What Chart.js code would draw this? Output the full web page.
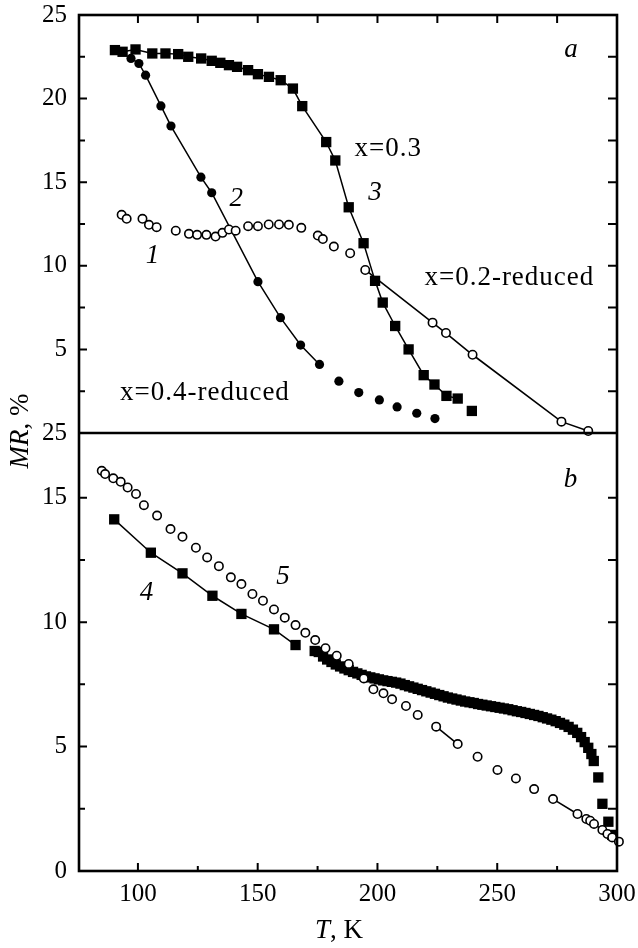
<!DOCTYPE html>
<html>
<head>
<meta charset="utf-8">
<script src="https://cdn.jsdelivr.net/npm/chart.js@4.4.0/dist/chart.umd.min.js"></script>
<style>
  html, body { margin: 0; padding: 0; background: #fff; }
  #wrap { width: 638px; height: 948px; position: relative; }
</style>
</head>
<body>
<div id="wrap"><canvas id="mr"></canvas></div>
<script>
// panel a, curve 1 : x=0.2-reduced (open circles)
var tempA1 = [93.2, 95.3, 101.9, 104.6, 107.8, 115.8, 121.3, 124.7, 128.6, 132.4, 135.3, 138.0, 140.8, 146.0, 150.1, 154.6, 158.9, 163.0, 168.2, 175.1, 177.2, 181.8, 188.6, 194.9, 223.0, 228.6, 239.7, 276.8, 288.0];
var mrA1 = [13.05, 12.81, 12.81, 12.45, 12.31, 12.10, 11.91, 11.85, 11.85, 11.75, 11.97, 12.17, 12.10, 12.37, 12.37, 12.47, 12.47, 12.45, 12.27, 11.81, 11.60, 11.15, 10.75, 9.75, 6.60, 5.98, 4.68, 0.68, 0.12];
// panel a, curve 2 : x=0.4-reduced (filled circles)
var tempA2 = [97.1, 100.4, 103.2, 109.6, 113.8, 126.3, 130.8, 150.1, 159.5, 167.9, 175.8, 183.9, 192.2, 200.8, 208.2, 216.4, 224.0];
var mrA2 = [22.4, 22.1, 21.4, 19.56, 18.36, 15.3, 14.37, 9.05, 6.9, 5.26, 4.1, 3.1, 2.42, 1.98, 1.56, 1.18, 0.86];
// panel a, curve 3 : x=0.3 (squares)
var tempA3 = [90.4, 93.6, 99.0, 106.0, 111.5, 116.8, 121.0, 126.4, 130.8, 134.4, 138.0, 141.4, 146.0, 150.1, 154.7, 159.6, 164.7, 168.6, 178.6, 182.4, 188.0, 194.2, 199.0, 202.2, 207.4, 213.0, 219.3, 223.8, 228.8, 233.5, 239.4];
var mrA3 = [22.9, 22.8, 22.94, 22.7, 22.7, 22.66, 22.5, 22.4, 22.26, 22.14, 22.0, 21.9, 21.7, 21.46, 21.3, 21.1, 20.6, 19.55, 17.4, 16.3, 13.5, 11.35, 9.1, 7.8, 6.4, 5.0, 3.46, 2.9, 2.22, 2.06, 1.32];
// panel b, curve 4 (squares)
var tempB4 = [90.1, 105.4, 118.6, 131.1, 143.2, 156.8, 165.8, 173.8, 175.5, 177.3, 179.0, 180.8, 182.6, 184.4, 186.2, 188.0, 189.8, 191.6, 193.4, 195.2, 197.0, 198.8, 200.6, 202.4, 204.2, 206.0, 207.8, 209.6, 211.4, 213.2, 215.0, 216.8, 218.6, 220.4, 222.2, 224.0, 225.8, 227.6, 229.4, 231.2, 233.0, 234.8, 236.6, 238.4, 240.2, 242.0, 243.8, 245.6, 247.4, 249.2, 251.0, 252.8, 254.6, 256.4, 258.2, 260.0, 261.8, 263.6, 265.4, 267.2, 269.0, 270.8, 272.6, 274.4, 276.2, 278.0, 279.8, 281.6, 283.4, 285.0, 286.5, 288.0, 289.3, 290.3, 292.2, 293.9, 296.4, 298.0];
var mrB4 = [14.13, 12.79, 11.96, 11.06, 10.33, 9.71, 9.08, 8.84, 8.80, 8.62, 8.50, 8.40, 8.30, 8.22, 8.14, 8.07, 8.00, 7.94, 7.88, 7.82, 7.78, 7.74, 7.70, 7.66, 7.63, 7.60, 7.57, 7.53, 7.47, 7.42, 7.37, 7.32, 7.27, 7.22, 7.17, 7.12, 7.07, 7.02, 6.97, 6.93, 6.89, 6.85, 6.81, 6.78, 6.75, 6.71, 6.68, 6.65, 6.62, 6.59, 6.56, 6.53, 6.50, 6.46, 6.42, 6.39, 6.35, 6.31, 6.27, 6.23, 6.18, 6.13, 6.08, 6.02, 5.95, 5.88, 5.79, 5.68, 5.55, 5.38, 5.18, 4.95, 4.70, 4.42, 3.76, 2.70, 1.98, 1.45];
// panel b, curve 5 (open circles)
var tempB5 = [84.9, 86.3, 89.7, 92.8, 95.7, 99.2, 102.5, 108.0, 113.6, 118.6, 124.2, 128.9, 133.8, 138.8, 143.2, 147.8, 152.2, 156.8, 161.3, 165.8, 169.9, 174.0, 178.3, 183.0, 188.0, 194.3, 198.3, 202.5, 206.1, 211.9, 216.8, 224.5, 233.5, 241.8, 250.1, 257.8, 265.4, 273.3, 283.5, 287.2, 288.8, 290.4, 293.9, 296.0, 298.0, 300.8];
var mrB5 = [16.08, 15.95, 15.78, 15.64, 15.41, 15.15, 14.70, 14.28, 13.74, 13.43, 12.99, 12.60, 12.25, 11.80, 11.53, 11.13, 10.86, 10.51, 10.18, 9.88, 9.57, 9.28, 8.95, 8.65, 8.32, 7.74, 7.30, 7.14, 6.90, 6.63, 6.27, 5.80, 5.10, 4.59, 4.06, 3.72, 3.29, 2.89, 2.29, 2.09, 2.02, 1.89, 1.65, 1.49, 1.35, 1.18];

var xTicks = [100, 150, 200, 250, 300];
var yTicksA = [5, 10, 15, 20, 25];
var yTicksB = [0, 5, 10, 15, 17.6];
var yLabelsB = ['0', '5', '10', '15', '25'];

var serif = "'Liberation Serif', 'DejaVu Serif', serif";

function pts(ts, vs) {
  var out = [];
  for (var i = 0; i < ts.length; i++) out.push({ x: ts[i], y: vs[i] });
  return out;
}
// which segments of a curve are joined by a line
function joined(test) {
  return { borderColor: function(c) { return test(c.p0DataIndex) ? '#000' : 'rgba(0,0,0,0)'; } };
}

var openCircle = { pointStyle: 'circle', pointRadius: 4.2, borderWidth: 1.6, pointBackgroundColor: '#fff', pointBorderColor: '#000' };
var fullCircle = { pointStyle: 'circle', pointRadius: 4.6, pointBorderWidth: 0, pointBackgroundColor: '#000', pointBorderColor: '#000' };
var square = { pointStyle: 'rect', pointRadius: 7.3, pointBorderWidth: 0, pointBackgroundColor: '#000', pointBorderColor: '#000' };

function ds(label, data, yId, marker, seg) {
  var d = { label: label, data: data, yAxisID: yId, showLine: true, borderColor: '#000', borderWidth: 1.5, clip: false, segment: seg };
  for (var k in marker) d[k] = marker[k];
  return d;
}

var notes = [
  { text: 'a', t: 281, v: 22.9, axis: 'ya', italic: true, align: 'center' },
  { text: 'x=0.3', t: 190.4, v: 16.97, axis: 'ya', italic: false, align: 'left' },
  { text: '3', t: 199.2, v: 14.33, axis: 'ya', italic: true, align: 'center' },
  { text: '2', t: 141.3, v: 14.03, axis: 'ya', italic: true, align: 'center' },
  { text: '1', t: 106.3, v: 10.61, axis: 'ya', italic: true, align: 'center' },
  { text: 'x=0.2-reduced', t: 219.6, v: 9.29, axis: 'ya', italic: false, align: 'left' },
  { text: 'x=0.4-reduced', t: 92.5, v: 2.4, axis: 'ya', italic: false, align: 'left' },
  { text: 'b', t: 280.8, v: 15.71, axis: 'yb', italic: true, align: 'center' },
  { text: '4', t: 103.8, v: 11.17, axis: 'yb', italic: true, align: 'center' },
  { text: '5', t: 160.8, v: 11.81, axis: 'yb', italic: true, align: 'center' }
];

var framePlugin = {
  id: 'frame',
  afterDraw: function(chart) {
    var ctx = chart.ctx, area = chart.chartArea;
    var sx = chart.scales.x, ya = chart.scales.ya, yb = chart.scales.yb;
    ctx.save();
    ctx.strokeStyle = '#000';
    ctx.lineWidth = 2.6;
    ctx.strokeRect(area.left, area.top, area.right - area.left, area.bottom - area.top);
    ctx.beginPath();
    ctx.moveTo(area.left, ya.bottom);
    ctx.lineTo(area.right, ya.bottom);
    ctx.stroke();

    ctx.lineWidth = 2;
    ctx.beginPath();
    for (var t = 100; t <= 300; t += 25) {
      var px = sx.getPixelForValue(t);
      ctx.moveTo(px, area.top); ctx.lineTo(px, area.top + 8);
      var len = t % 50 === 0 ? 8 : 5;
      ctx.moveTo(px, area.bottom); ctx.lineTo(px, area.bottom - len);
    }
    for (var v = 2.5; v < 25; v += 2.5) {
      var py = ya.getPixelForValue(v);
      ctx.moveTo(area.left, py); ctx.lineTo(area.left + (v % 5 === 0 ? 8 : 6), py);
      ctx.moveTo(area.right, py); ctx.lineTo(area.right - 9, py);
    }
    for (var w = 2.5; w <= 15; w += 2.5) {
      var qy = yb.getPixelForValue(w);
      ctx.moveTo(area.left, qy); ctx.lineTo(area.left + (w % 5 === 0 ? 8 : 6), qy);
      ctx.moveTo(area.right, qy); ctx.lineTo(area.right - 9, qy);
    }
    ctx.stroke();

    ctx.fillStyle = '#000';
    ctx.textBaseline = 'middle';
    ctx.letterSpacing = '1px';
    notes.forEach(function(n) {
      var sc = chart.scales[n.axis];
      ctx.font = (n.italic ? 'italic ' : '') + '27px ' + serif;
      ctx.textAlign = n.align;
      ctx.fillText(n.text, sx.getPixelForValue(n.t), sc.getPixelForValue(n.v));
    });
    ctx.letterSpacing = '0px';

    // axis titles: italic symbol + plain unit
    function mixed(a, b, cx, cy) {
      ctx.font = 'italic 27px ' + serif;
      var wa = ctx.measureText(a).width;
      ctx.font = '27px ' + serif;
      var wb = ctx.measureText(b).width;
      var x0 = cx - (wa + wb) / 2;
      ctx.textAlign = 'left';
      ctx.font = 'italic 27px ' + serif;
      ctx.fillText(a, x0, cy);
      ctx.font = '27px ' + serif;
      ctx.fillText(b, x0 + wa, cy);
    }
    mixed('T', ', K', 339, 931);
    ctx.translate(21, 431);
    ctx.rotate(-Math.PI / 2);
    mixed('MR', ', %', 0, 0);
    ctx.restore();
  }
};

var tickFont = { family: serif, size: 25 };

function noPad(s) {
  s.paddingTop = 0; s.paddingBottom = 0; s.paddingLeft = 0; s.paddingRight = 0;
}

new Chart(document.getElementById('mr'), {
  type: 'scatter',
  data: {
    datasets: [
      ds('5', pts(tempB5, mrB5), 'yb', openCircle, joined(function(i) { return i === 31 || i >= 37; })),
      ds('1', pts(tempA1, mrA1), 'ya', openCircle, joined(function(i) { return i >= 23; })),
      ds('2', pts(tempA2, mrA2), 'ya', fullCircle, joined(function(i) { return i < 10; })),
      ds('3', pts(tempA3, mrA3), 'ya', square, joined(function(i) { return i < tempA3.length - 2; })),
      ds('4', pts(tempB4, mrB4), 'yb', square, joined(function(i) { return i < 6; }))
    ]
  },
  options: {
    responsive: true,
    maintainAspectRatio: false,
    animation: false,
    layout: { padding: { left: 0, right: 21, top: 15, bottom: 0 } },
    plugins: { legend: { display: false }, tooltip: { enabled: false } },
    scales: {
      x: {
        type: 'linear', min: 75.4, max: 300,
        grid: { display: false, drawTicks: false }, border: { display: false },
        afterBuildTicks: function(s) { s.ticks = xTicks.map(function(v) { return { value: v }; }); },
        afterFit: function(s) { s.height = 77; noPad(s); },
        ticks: { font: tickFont, color: '#000', padding: 8, autoSkip: false, maxRotation: 0 }
      },
      yb: {
        type: 'linear', position: 'left', stack: 'mr', stackWeight: 438, min: 0, max: 17.6,
        grid: { display: false, drawTicks: false }, border: { display: false },
        afterBuildTicks: function(s) { s.ticks = yTicksB.map(function(v) { return { value: v }; }); },
        afterFit: function(s) { s.width = 79; noPad(s); },
        ticks: { font: tickFont, color: '#000', padding: 12, autoSkip: false,
          callback: function(v) { return yLabelsB[yTicksB.indexOf(v)]; } }
      },
      ya: {
        type: 'linear', position: 'left', stack: 'mr', stackWeight: 418, min: 0, max: 25,
        grid: { display: false, drawTicks: false }, border: { display: false },
        afterBuildTicks: function(s) { s.ticks = yTicksA.map(function(v) { return { value: v }; }); },
        afterFit: function(s) { s.width = 79; noPad(s); },
        ticks: { font: tickFont, color: '#000', padding: 12, autoSkip: false }
      }
    }
  },
  plugins: [framePlugin]
});
</script>
</body>
</html>
